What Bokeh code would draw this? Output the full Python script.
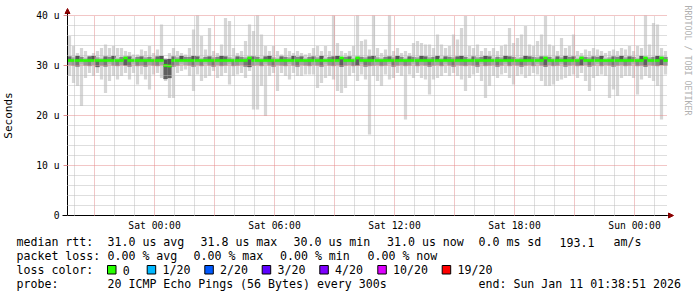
import math
import datetime as dt
import numpy as np
from bokeh.plotting import figure
from bokeh.models import (Range1d, FixedTicker, Grid, Label, Arrow, NormalHead,
                          ColumnDataSource, DatetimeTickFormatter)
from bokeh.embed import file_html
from bokeh.resources import INLINE

# ---------------- data ----------------
END_TIME = dt.datetime(2026, 1, 11, 1, 38, 51)
HOURS_SHOWN = 30
STEP_MINUTES = 12

# smoke extent per 12-minute column (microseconds)
rtt_max = [
    35.9, 33.9, 32.5, 33.5, 32.9, 31.9, 32.5, 32.9, 33.5, 34.2,
    33.5, 33.9, 33.5, 33.5, 32.9, 32.7, 32.2, 32.2, 33.2, 32.9,
    33.9, 32.5, 33.2, 38.2, 31.5, 32.5, 33.5, 32.9, 32.5, 32.2,
    33.5, 37.2, 40.0, 35.9, 33.2, 37.5, 32.9, 32.5, 34.2, 39.5,
    38.9, 33.5, 32.5, 32.9, 34.9, 38.2, 36.9, 40.0, 36.2, 33.9,
    32.9, 33.9, 32.9, 32.2, 33.5, 32.9, 32.5, 32.9, 32.5, 32.2,
    32.5, 33.5, 33.9, 32.9, 33.9, 32.9, 40.0, 34.5, 32.9, 32.5,
    32.9, 33.9, 40.0, 34.9, 35.2, 33.2, 40.0, 33.5, 32.5, 33.2,
    40.0, 32.9, 33.5, 32.5, 32.9, 32.5, 34.5, 34.9, 34.5, 34.2,
    34.2, 33.5, 36.2, 34.2, 33.5, 33.9, 36.2, 35.2, 37.5, 39.9,
    33.9, 33.5, 34.2, 32.9, 33.5, 32.9, 33.5, 32.9, 33.9, 34.2,
    37.5, 34.5, 35.5, 36.2, 37.9, 34.2, 33.9, 34.9, 36.2, 39.9,
    34.2, 33.9, 32.9, 35.5, 33.5, 33.9, 36.2, 32.9, 32.5, 33.2,
    32.9, 33.5, 33.2, 32.9, 32.5, 32.9, 33.2, 32.9, 33.5, 33.2,
    33.9, 32.9, 33.9, 33.5, 40.0, 34.2, 38.5, 38.2, 33.5, 32.9,
]
rtt_min = [
    27.9, 26.5, 25.9, 21.9, 27.5, 28.5, 27.9, 28.5, 27.2, 24.5,
    26.9, 27.9, 27.2, 27.9, 28.5, 27.2, 28.5, 26.2, 28.2, 27.2,
    25.2, 28.2, 28.5, 27.5, 26.9, 23.5, 23.5, 28.5, 28.9, 29.2,
    27.9, 24.9, 28.2, 26.9, 27.5, 27.9, 28.9, 27.5, 27.9, 28.5,
    26.2, 27.9, 28.2, 28.5, 27.5, 28.9, 21.2, 21.2, 25.9, 19.9,
    27.9, 28.5, 24.9, 28.5, 27.9, 27.2, 28.5, 27.9, 27.9, 28.2,
    28.2, 28.2, 25.5, 26.5, 27.5, 27.9, 27.2, 24.9, 24.5, 25.5,
    27.9, 28.5, 26.9, 28.2, 27.2, 16.2, 27.9, 26.9, 25.9, 28.2,
    27.2, 27.5, 28.5, 27.9, 19.2, 28.2, 27.5, 28.5, 27.5, 27.2,
    24.2, 27.2, 27.5, 27.9, 28.5, 27.9, 28.5, 27.9, 27.2, 24.9,
    27.5, 28.2, 28.5, 26.9, 23.5, 25.9, 27.9, 27.5, 28.2, 28.5,
    27.5, 26.2, 27.9, 28.2, 27.5, 27.9, 28.5, 28.2, 26.9, 25.9,
    25.9, 26.2, 26.9, 27.2, 27.5, 27.9, 28.2, 27.5, 28.5, 26.9,
    24.9, 27.5, 27.9, 28.2, 27.9, 23.5, 25.2, 23.9, 27.5, 27.9,
    27.9, 27.5, 24.2, 27.2, 27.9, 27.5, 26.9, 25.9, 19.2, 28.2,
]
# dense core of the smoke
rtt_p75 = [
    31.8, 31.6, 31.9, 31.7, 31.5, 31.8, 31.9, 31.6, 31.5, 31.8,
    31.7, 31.9, 31.5, 31.7, 31.9, 31.8, 31.5, 31.7, 31.8, 31.6,
    31.7, 31.5, 31.8, 31.9, 31.2, 31.3, 31.8, 31.6, 31.9, 31.7,
    31.7, 31.9, 31.8, 31.5, 31.7, 31.8, 31.6, 31.7, 31.9, 31.8,
    31.6, 31.5, 31.8, 31.7, 31.6, 31.9, 31.8, 31.7, 31.5, 31.8,
    31.9, 31.6, 31.5, 31.8, 31.7, 31.6, 31.9, 31.7, 31.8, 31.5,
    31.7, 31.8, 31.6, 31.9, 31.5, 31.7, 31.8, 31.9, 31.6, 31.7,
    31.8, 31.5, 31.9, 31.7, 31.6, 31.8, 31.9, 31.6, 31.5, 31.7,
    31.8, 31.6, 31.9, 31.7, 31.5, 31.8, 31.7, 31.6, 31.9, 31.8,
    31.6, 31.7, 31.9, 31.5, 31.8, 31.7, 31.6, 31.8, 31.9, 31.7,
    31.5, 31.8, 31.6, 31.7, 31.9, 31.8, 31.5, 31.7, 31.6, 31.9,
    31.8, 31.7, 31.5, 31.6, 31.9, 31.8, 31.7, 31.6, 31.8, 31.9,
    31.7, 31.5, 31.8, 31.6, 31.9, 31.7, 31.8, 31.5, 31.9, 31.7,
    31.6, 31.8, 31.7, 31.9, 31.5, 31.6, 31.8, 31.7, 31.9, 31.6,
    31.8, 31.7, 31.5, 31.9, 31.8, 31.6, 31.7, 31.9, 31.8, 31.7,
]
rtt_p25 = [
    30.1, 30.0, 29.8, 30.2, 30.0, 29.9, 30.1, 29.7, 30.0, 29.8,
    30.2, 30.0, 29.9, 30.1, 30.0, 29.8, 30.2, 29.9, 30.0, 29.8,
    30.1, 30.0, 29.9, 30.1, 27.3, 27.5, 29.8, 30.0, 30.2, 30.1,
    30.0, 29.8, 30.1, 29.9, 30.2, 30.0, 29.8, 30.1, 29.9, 30.0,
    30.2, 29.9, 30.0, 30.1, 29.8, 29.7, 30.0, 30.1, 29.9, 30.2,
    30.0, 29.8, 30.1, 30.0, 29.9, 30.2, 30.0, 29.8, 30.1, 30.0,
    29.9, 30.1, 30.0, 29.8, 30.2, 30.0, 29.9, 30.1, 29.8, 30.0,
    30.1, 29.9, 30.0, 30.2, 29.8, 29.9, 30.0, 30.1, 29.9, 30.0,
    30.2, 29.8, 30.0, 30.1, 29.9, 30.0, 30.2, 29.9, 30.1, 30.0,
    29.8, 30.0, 30.1, 29.9, 30.2, 30.0, 29.8, 30.1, 30.0, 29.9,
    30.1, 30.0, 29.8, 30.2, 29.9, 30.0, 30.1, 29.8, 30.0, 30.2,
    29.9, 30.1, 30.0, 29.8, 30.0, 30.1, 29.9, 30.2, 30.0, 29.8,
    30.1, 29.9, 30.0, 30.2, 29.8, 30.0, 30.1, 29.9, 30.0, 30.1,
    29.8, 30.0, 30.2, 29.9, 30.1, 30.0, 29.8, 30.0, 30.1, 29.9,
    30.0, 30.2, 29.9, 30.0, 29.8, 30.1, 30.0, 29.9, 30.1, 30.0,
]
rtt_median = [
    31.0, 31.0, 31.0, 31.0, 31.0, 31.0, 31.0, 31.0, 31.0, 31.0,
    31.0, 31.0, 31.0, 31.0, 31.5, 31.0, 31.0, 31.0, 31.0, 31.0,
    31.0, 31.0, 31.0, 31.0, 30.0, 29.9, 31.0, 31.0, 31.0, 31.0,
    31.0, 31.0, 31.0, 31.0, 31.0, 31.0, 31.0, 31.0, 31.0, 31.0,
    31.0, 31.0, 31.0, 31.0, 31.0, 31.5, 31.0, 31.0, 31.0, 31.0,
    31.0, 31.0, 31.0, 31.0, 31.0, 31.0, 31.0, 31.0, 31.0, 31.0,
    31.0, 31.0, 31.0, 31.0, 31.0, 31.0, 31.0, 31.0, 31.5, 31.0,
    31.0, 31.0, 31.5, 31.0, 31.0, 31.0, 31.0, 31.0, 31.0, 31.0,
    31.0, 31.0, 31.0, 31.0, 31.0, 31.0, 31.0, 31.0, 31.0, 31.0,
    31.0, 31.0, 31.0, 31.0, 31.0, 31.0, 31.0, 31.0, 31.0, 31.0,
    31.0, 31.0, 31.0, 31.0, 31.0, 31.0, 31.0, 31.0, 31.0, 31.0,
    31.0, 31.0, 31.0, 31.0, 31.0, 31.0, 31.0, 31.0, 31.0, 31.5,
    31.0, 31.0, 31.0, 31.0, 31.0, 31.0, 31.0, 31.0, 31.5, 31.0,
    31.0, 31.0, 31.0, 31.0, 31.0, 31.0, 31.0, 31.0, 31.0, 31.0,
    31.0, 31.0, 31.0, 31.0, 31.5, 31.0, 31.0, 31.0, 31.5, 31.0,
]

y_ticks = [0, 10, 20, 30, 40]
y_tick_labels = ["0", "10 u", "20 u", "30 u", "40 u"]
x_label_times = [dt.datetime(2026, 1, 10, h) for h in (0, 6, 12, 18)] + [dt.datetime(2026, 1, 11, 0)]

stats_rtt = ["median rtt:", "31.0 us avg", "31.8 us max", "30.0 us min", "31.0 us now", "0.0 ms sd", "193.1", "am/s"]
stats_loss = ["packet loss:", "0.00 % avg", "0.00 % max", "0.00 % min", "0.00 % now"]
loss_labels = ["0", "1/20", "2/20", "3/20", "4/20", "10/20", "19/20"]
loss_colors = ["#26ff00", "#00b8ff", "#0059ff", "#5e00ff", "#7e00ff", "#dd00ff", "#ff0000"]
probe_text = ["probe:", "20 ICMP Echo Pings (56 Bytes) every 300s", "end: Sun Jan 11 01:38:51 2026"]

# ---------------- helpers ----------------
EPOCH = dt.datetime(1970, 1, 1)
def ms(t):
    return (t - EPOCH).total_seconds() * 1000.0

start_t = END_TIME - dt.timedelta(hours=HOURS_SHOWN)
x0, x1 = ms(start_t), ms(END_TIME)
W, H = 697, 297
GL, GR, GT, GB = 67, 667, 15, 215      # graph area in pixels
PX = (x1 - x0) / (GR - GL)
def X(px):
    return x0 + (px - GL) * PX
PXY = 40.0 / (GB - GT)
def Y(py):
    return (GB - py) * PXY

n = len(rtt_median)
lefts = [ms(start_t + dt.timedelta(minutes=STEP_MINUTES * i)) for i in range(n)]
rights = [ms(start_t + dt.timedelta(minutes=STEP_MINUTES * (i + 1))) for i in range(n)]
centers = [(a + b) / 2 for a, b in zip(lefts, rights)]
col_w = STEP_MINUTES * 60 * 1000.0

def grey(v):
    v = int(max(0, min(255, v)))
    return "#%02x%02x%02x" % (v, v, v)

med = np.array(rtt_median)
up_col = [grey(np.clip(330 - (h - med[i]) * 280, 85, 190)) for i, h in enumerate(rtt_p75)]
lo_col = [grey(np.clip(300 - (med[i] - l) * 150, 95, 195)) for i, l in enumerate(rtt_p25)]

src = ColumnDataSource(dict(
    left=lefts, right=rights, x=centers, hi=rtt_max, lo=rtt_min, p75=rtt_p75, p25=rtt_p25,
    med=rtt_median, up_col=up_col, lo_col=lo_col,
    mtop=[m + 0.23 for m in rtt_median], mbot=[m - 0.23 for m in rtt_median],
))

MONO = "DejaVu Sans Mono"

# the frame covers the whole canvas; axes are pinned with fixed_location
p = figure(width=W, height=H, x_axis_type="datetime",
           x_range=Range1d(X(0), X(W)), y_range=Range1d(Y(H), Y(0)),
           output_backend="svg", toolbar_location=None,
           min_border_left=0, min_border_right=0, min_border_top=0, min_border_bottom=0)
p.title.visible = False
p.outline_line_color = None
p.background_fill_color = "white"
p.border_fill_color = "white"
p.grid.visible = False

# smoke
p.vbar(x="x", width=col_w * 0.8, top="hi", bottom="lo", source=src,
       fill_color="#d6d6d6", line_color=None)
p.quad(left="left", right="right", top="p75", bottom="med", source=src,
       fill_color="up_col", line_color="up_col", line_width=0.3)
p.quad(left="left", right="right", top="med", bottom="p25", source=src,
       fill_color="lo_col", line_color="lo_col", line_width=0.3)
p.quad(left="left", right="right", top="mtop", bottom="mbot", source=src,
       fill_color=loss_colors[0], line_color=loss_colors[0], line_width=0.3)

# grids
hour_ms = 3600 * 1000.0
first_hour = ms(start_t.replace(minute=0, second=0) + dt.timedelta(hours=1))
hours = [first_hour + k * hour_ms for k in range(HOURS_SHOWN + 1) if first_hour + k * hour_ms < x1]
major3 = [h for h in hours if int(round((h % (24 * hour_ms)) / hour_ms)) % 3 == 0]
minor1 = [h for h in hours if h not in major3]
ymaj = [10, 20, 30, 40]
ymin = [v for v in range(2, 40, 2) if v % 10 != 0]

MAJ_C, MIN_C = "#e48c8c", "#bdbdbd"
xg = Grid(dimension=0, ticker=FixedTicker(ticks=major3, minor_ticks=minor1),
          grid_line_color=MAJ_C, grid_line_dash="1 1",
          minor_grid_line_color=MIN_C, minor_grid_line_dash="1 1", level="annotation",
          cross_bounds=(0, 40))
yg = Grid(dimension=1, ticker=FixedTicker(ticks=ymaj, minor_ticks=ymin),
          grid_line_color=MAJ_C, grid_line_dash="1 1",
          minor_grid_line_color=MIN_C, minor_grid_line_dash="1 1", level="annotation",
          cross_bounds=(x0, x1))
p.add_layout(xg)
p.add_layout(yg)

# axes pinned at the graph origin
ax = p.xaxis[0]
ax.fixed_location = 0
ax.ticker = FixedTicker(ticks=[ms(t) for t in x_label_times], minor_ticks=[])
fmt = "%a %H:%M"
ax.formatter = DatetimeTickFormatter(seconds=fmt, minsec=fmt, minutes=fmt, hourmin=fmt,
                                     hours=fmt, days=fmt, months=fmt, years=fmt)
ax.bounds = (x0, x1)
ax.major_tick_out = 0
ax.major_tick_in = 0
ax.minor_tick_out = 0
ax.minor_tick_in = 0
ax.major_label_standoff = 4
ax.major_label_text_font = MONO
ax.major_label_text_font_size = "9.7px"
ax.major_label_text_color = "black"
ax.axis_line_color = "black"

ay = p.yaxis[0]
ay.fixed_location = x0
ay.ticker = FixedTicker(ticks=y_ticks, minor_ticks=[])
ay.major_label_overrides = {t: s for t, s in zip(y_ticks, y_tick_labels)}
ay.bounds = (0, 40)
ay.major_tick_out = 4
ay.major_tick_in = 0
ay.major_tick_line_color = MAJ_C
ay.minor_tick_out = 0
ay.minor_tick_in = 0
ay.major_label_standoff = 4
ay.major_label_text_font = MONO
ay.major_label_text_font_size = "9.7px"
ay.major_label_text_color = "black"
ay.axis_line_color = "black"
ay.axis_label = "Seconds"
ay.axis_label_text_font = MONO
ay.axis_label_text_font_size = "11px"
ay.axis_label_text_font_style = "normal"
ay.axis_label_text_color = "black"
ay.axis_label_standoff = 18

# axis arrows
ARROW = "#8b0000"
p.add_layout(Arrow(end=NormalHead(size=5, fill_color=ARROW, line_color=ARROW),
                   x_start=x0, y_start=40, x_end=x0, y_end=Y(8), line_color="black", line_width=1))
p.add_layout(Arrow(end=NormalHead(size=5, fill_color=ARROW, line_color=ARROW),
                   x_start=x1, y_start=0, x_end=X(673), y_end=0, line_color="black", line_width=1))
p.add_layout(Arrow(end=None, x_start=X(62), y_start=0, x_end=x0, y_end=0,
                   line_color="black", line_width=1))

# watermark
p.add_layout(Label(x=X(687.5), y=Y(5), text="RRDTOOL / TOBI OETIKER", angle=-math.pi / 2,
                   text_font=MONO, text_font_size="8.3px", text_color="#b0b0b0",
                   text_align="left", text_baseline="middle"))

# legend
def txt(px, py, s):
    p.add_layout(Label(x=X(px), y=Y(py), text=s, text_font=MONO, text_font_size="11.6px",
                       text_color="black", text_align="left", text_baseline="middle"))

for px, s in zip([16, 107, 200, 293, 386.5, 478, 559, 613], stats_rtt):
    txt(px, 241.5, s)
for px, s in zip([16, 107, 193, 279.5, 367], stats_loss):
    txt(px, 255.5, s)
txt(16, 269.5, "loss color:")
box_x = [107, 146.7, 204.3, 261.7, 319.3, 377.3, 441.7]
p.quad(left=[X(b) for b in box_x], right=[X(b + 8.5) for b in box_x],
       top=[Y(265)] * len(box_x), bottom=[Y(273.5)] * len(box_x),
       fill_color=loss_colors, line_color="black", line_width=1)
for bx, lab in zip(box_x, loss_labels):
    txt(bx + 15.3, 269.5, lab)
for px, s in zip([16, 107, 478], probe_text):
    txt(px, 283.5, s)

open("out.html", "w").write(file_html(p, INLINE))
